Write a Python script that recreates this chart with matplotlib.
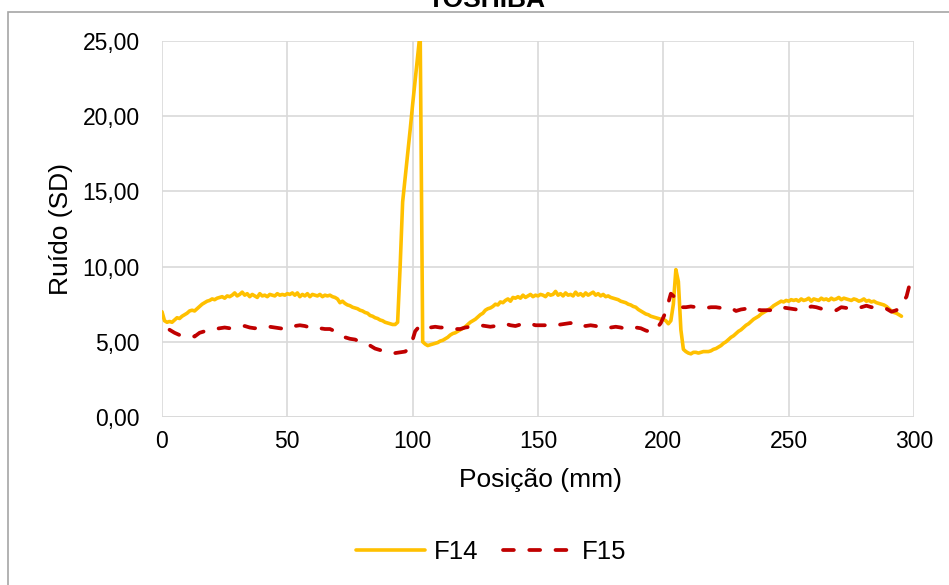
import numpy as np
import matplotlib
matplotlib.use("Agg")
import matplotlib.pyplot as plt
from matplotlib.patches import Rectangle
from matplotlib.ticker import FuncFormatter

plt.rcParams['font.family'] = ['Liberation Sans', 'DejaVu Sans']

title = "TOSHIBA"
x_label = "Posição (mm)"
y_label = "Ruído (SD)"
series_names = ["F14", "F15"]

f14_x = np.arange(0, 296, 1)
f14_y = [
    7.0, 6.4, 6.3, 6.35, 6.3, 6.45, 6.6, 6.55, 6.7, 6.8,
    6.9, 7.05, 7.1, 7.05, 7.2, 7.35, 7.5, 7.6, 7.7, 7.75,
    7.85, 7.8, 7.9, 7.95, 8.0, 7.9, 8.05, 8.0, 8.1, 8.25,
    8.05, 8.15, 8.3, 8.1, 8.2, 8.0, 8.15, 8.05, 7.95, 8.2,
    8.05, 8.1, 8.0, 8.15, 8.1, 8.05, 8.2, 8.1, 8.15, 8.1,
    8.2, 8.15, 8.25, 8.1, 8.25, 8.0, 8.15, 8.05, 8.2, 8.0,
    8.15, 8.1, 8.05, 8.15, 8.0, 8.1, 8.05, 8.1, 8.0, 7.95,
    7.85, 7.6, 7.7, 7.55, 7.45, 7.4, 7.3, 7.25, 7.2, 7.1,
    7.05, 6.95, 6.9, 6.75, 6.7, 6.6, 6.55, 6.45, 6.4, 6.3,
    6.25, 6.2, 6.15, 6.15, 6.3, 10.0, 14.3, 15.9, 17.5, 19.1,
    20.8, 22.4, 24.0, 25.6, 5.0, 4.85, 4.75, 4.8, 4.85, 4.9,
    4.95, 5.05, 5.1, 5.2, 5.3, 5.45, 5.55, 5.6, 5.7, 5.8,
    5.9, 6.0, 6.15, 6.3, 6.4, 6.5, 6.65, 6.8, 6.9, 7.1,
    7.2, 7.25, 7.35, 7.5, 7.45, 7.65, 7.6, 7.75, 7.85, 7.7,
    7.95, 7.9, 8.0, 7.9, 8.1, 7.95, 8.05, 8.15, 8.0, 8.1,
    8.05, 8.15, 8.1, 8.0, 8.2, 8.1, 8.15, 8.35, 8.1, 8.2,
    8.05, 8.25, 8.1, 8.15, 8.05, 8.3, 8.1, 8.2, 8.05, 8.25,
    8.1, 8.2, 8.3, 8.1, 8.2, 8.05, 8.15, 8.0, 8.05, 7.95,
    7.9, 7.85, 7.8, 7.7, 7.65, 7.6, 7.5, 7.45, 7.35, 7.3,
    7.15, 7.05, 6.95, 6.85, 6.8, 6.7, 6.65, 6.6, 6.55, 6.5,
    6.5, 6.4, 6.2, 6.4, 7.5, 9.8, 9.0, 5.8, 4.5, 4.35,
    4.25, 4.2, 4.3, 4.3, 4.25, 4.3, 4.35, 4.35, 4.35, 4.4,
    4.5, 4.55, 4.65, 4.75, 4.9, 5.0, 5.15, 5.3, 5.4, 5.55,
    5.7, 5.8, 5.95, 6.1, 6.2, 6.35, 6.5, 6.6, 6.7, 6.85,
    6.95, 7.05, 7.15, 7.25, 7.4, 7.5, 7.6, 7.7, 7.65, 7.75,
    7.7, 7.8, 7.75, 7.8, 7.7, 7.85, 7.75, 7.8, 7.9, 7.7,
    7.85, 7.8, 7.75, 7.9, 7.8, 7.85, 7.75, 7.9, 7.8, 7.85,
    7.95, 7.8, 7.9, 7.85, 7.8, 7.75, 7.85, 7.8, 7.7, 7.75,
    7.85, 7.7, 7.75, 7.65, 7.7, 7.6, 7.55, 7.5, 7.45, 7.35,
    7.2, 7.05, 6.95, 6.9, 6.8, 6.7,
]

f15_x = np.arange(3, 300, 2)
f15_y = [
    5.8, 5.6, 5.45, 5.5, 5.45, 5.35, 5.6, 5.7, 5.75, 5.85,
    5.9, 5.95, 5.9, 5.95, 6.0, 6.05, 5.95, 5.9, 5.95, 6.0,
    6.0, 5.95, 5.9, 5.85, 6.0, 6.05, 6.1, 6.05, 5.95, 5.85,
    5.9, 5.85, 5.85, 5.7, 5.5, 5.3, 5.2, 5.15, 5.0, 4.9,
    4.75, 4.55, 4.45, 4.35, 4.3, 4.25, 4.3, 4.35, 4.6, 5.7,
    6.1, 6.05, 5.95, 6.0, 5.95, 5.95, 5.9, 5.85, 5.85, 5.95,
    6.0, 6.05, 6.1, 6.05, 6.0, 6.05, 6.15, 6.2, 6.1, 6.05,
    6.15, 6.25, 6.2, 6.1, 6.1, 6.1, 6.15, 6.1, 6.15, 6.2,
    6.25, 6.05, 6.1, 6.05, 6.1, 6.05, 5.95, 6.0, 5.95, 6.0,
    5.95, 5.85, 5.9, 5.95, 5.9, 5.75, 5.65, 5.8, 6.25, 7.0,
    8.2, 7.9, 7.3, 7.3, 7.35, 7.3, 7.25, 7.25, 7.3, 7.3,
    7.25, 7.3, 7.25, 7.05, 7.15, 7.2, 7.3, 7.15, 7.1, 7.1,
    7.1, 7.15, 7.3, 7.25, 7.2, 7.15, 7.1, 7.2, 7.35, 7.3,
    7.2, 7.15, 7.1, 7.1, 7.3, 7.25, 7.2, 7.2, 7.3, 7.4,
    7.3, 7.3, 7.3, 7.2, 7.0, 7.1, 7.5, 8.0, 9.3,
]

x_ticks = [0, 50, 100, 150, 200, 250, 300]
y_ticks = [0, 5, 10, 15, 20, 25]

W, H = 949, 585
fig = plt.figure(figsize=(W / 100, H / 100), dpi=100)
ax = fig.add_axes([162 / W, 1 - 417 / H, (914 - 162) / W, (417 - 41) / H])

ax.plot(f14_x, f14_y, color="#FFC000", lw=2.6, solid_capstyle="round",
        solid_joinstyle="round", label=series_names[0], zorder=3)
ax.plot(f15_x, f15_y, color="#C00000", lw=2.7, dash_capstyle="round",
        dashes=(2.9, 4.1), label=series_names[1], zorder=3)

ax.set_xlim(0, 300)
ax.set_ylim(0, 25)
ax.set_xticks(x_ticks)
ax.set_yticks(y_ticks)
ax.yaxis.set_major_formatter(FuncFormatter(lambda v, p: f"{v:.2f}".replace(".", ",")))
ax.grid(True, color="#D9D9D9", lw=1.2)
ax.set_axisbelow(True)
for s in ax.spines.values():
    s.set_visible(False)
ax.axhline(0, color="#D9D9D9", lw=1.2, zorder=1)
ax.tick_params(length=0, labelsize=16.5, colors="black")
ax.tick_params(axis='x', pad=9)
ax.tick_params(axis='y', pad=16)
ax.set_xlabel(x_label, fontsize=19)
ax.set_ylabel(y_label, fontsize=19)
ax.xaxis.set_label_coords(0.503, -0.135)
ax.yaxis.set_label_coords(-0.119, 0.5)

fig.text(487 / W, 1 - 7 / H, title, ha="center", va="baseline",
         fontsize=19, fontweight="bold")

fig.patches.append(Rectangle((8 / W, -0.05), 1.2, 1 - 12 / H + 0.05,
                             transform=fig.transFigure, fill=False,
                             edgecolor="#A6A6A6", lw=1.2))

fig.legend(loc="center", bbox_to_anchor=(491 / W, 1 - 552 / H), ncol=2,
           frameon=False, fontsize=18.5, handlelength=2.7, columnspacing=0.97,
           handletextpad=0.35)

fig.savefig("out.png", dpi=100)
